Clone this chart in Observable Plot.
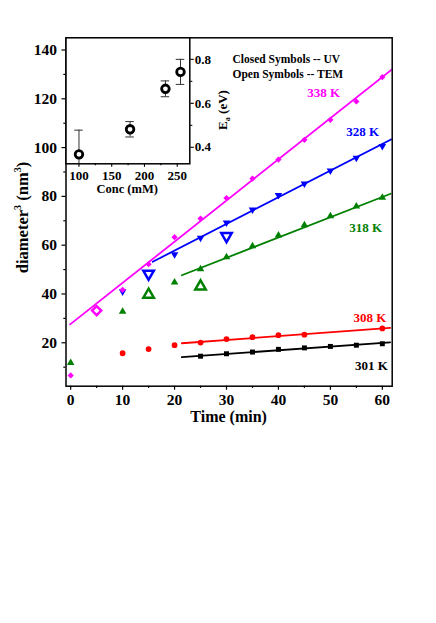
<!DOCTYPE html>
<html><head><meta charset="utf-8">
<script src="https://cdn.jsdelivr.net/npm/d3@7"></script>
<script src="https://cdn.jsdelivr.net/npm/@observablehq/plot@0.6"></script>
<style>
body{margin:0;background:#fff;}
#wrap{position:relative;width:436px;height:623px;}
#inset{position:absolute;left:0;top:0;}
</style></head><body><div id="wrap"><div id="main"></div><div id="inset"></div></div>
<script>
// ---- Main chart data (Time in min, diameter^3 in nm^3) ----
const seriesNames = ["338 K", "328 K", "318 K", "308 K", "301 K"];
const seriesColors = ["#ff00ff", "#0000ff", "#008000", "#ff0000", "#000000"];
const seriesSymbols = ["diamond2", "triangle", "triangle", "circle", "square"];
const seriesRotate = [0, 180, 0, 0, 0];

const times338 = [0, 10, 15, 20, 25, 30, 35, 40, 45, 50, 55, 60];
const vals338  = [6.6, 41.7, 52.2, 63.3, 70.9, 79.3, 87.3, 95.1, 103.2, 111.4, 118.9, 128.9];
const times328 = [10, 20, 25, 30, 35, 40, 45, 50, 55, 60];
const vals328  = [41.0, 56.2, 63.0, 69.2, 74.6, 80.5, 85.2, 90.5, 95.8, 100.6];
const times318 = [0, 10, 20, 25, 30, 35, 40, 45, 50, 55, 60];
const vals318  = [11.8, 32.8, 44.8, 50.2, 55.1, 59.6, 64.0, 68.2, 71.9, 75.9, 79.5];
const times308 = [10, 15, 20, 25, 30, 35, 40, 45, 60];
const vals308  = [15.7, 17.4, 19.0, 20.1, 21.5, 22.3, 23.1, 23.3, 25.9];
const times301 = [25, 30, 35, 40, 45, 50, 55, 60];
const vals301  = [14.5, 15.5, 16.2, 17.3, 17.9, 18.5, 19.0, 19.6];

// Open symbols (TEM)
const temSeries = ["338 K", "328 K", "328 K", "318 K", "318 K"];
const temTimes  = [5, 15, 30, 15, 25];
const temVals   = [33.2, 48.3, 63.7, 39.7, 43.1];

// Linear fits
const fitStart     = [-0.1, 15.8, 21.4, 21.4, 21.4];
const fitEnd       = [62, 62, 61.6, 61.5, 61.5];
const fitIntercept = [27.7, 35.95, 29.9, 16.44, 10.85];
const fitSlope     = [1.687, 1.092, 0.831, 0.157, 0.152];

// Series labels
const labelX = [48.7, 56.2, 56.8, 57.6, 57.9];
const labelY = [122.6, 106.3, 67.0, 30.2, 10.7];

// Axis ticks
const xMajor = [0, 10, 20, 30, 40, 50, 60];
const xMinor = [5, 15, 25, 35, 45, 55];
const yMajor = [20, 40, 60, 80, 100, 120, 140];
const yMinor = [10, 30, 50, 70, 90, 110, 130];

// ---- Inset data ----
const conc  = [100, 178, 232, 255];
const ea    = [0.368, 0.482, 0.666, 0.743];
const eaErr = [0.11, 0.035, 0.036, 0.057];
const cxMajor = [100, 150, 200, 250];
const cxMinor = [125, 175, 225];
const eyMajor = [0.4, 0.6, 0.8];
const eyMinor = [0.5, 0.7];

const FONT = '"Liberation Serif","Times New Roman",serif';
const W = 436, H = 623;

// Build tables
const valueTable = [[times338, vals338], [times328, vals328], [times318, vals318], [times308, vals308], [times301, vals301]];
const closed = [];
valueTable.forEach(([ts, vs], i) => ts.forEach((t, j) => closed.push({series: seriesNames[i], t, v: vs[j], i})));
const open = temTimes.map((t, j) => ({series: temSeries[j], t, v: temVals[j], i: seriesNames.indexOf(temSeries[j])}));
const fitPts = [];
seriesNames.forEach((s, i) => {
  [fitStart[i], fitEnd[i]].forEach(t => fitPts.push({series: s, t, v: fitIntercept[i] + fitSlope[i] * t}));
});
const labels = seriesNames.map((s, i) => ({series: s, t: labelX[i], v: labelY[i]}));

const colorOpt = {type: "ordinal", domain: seriesNames, range: seriesColors};

const closedMarks = seriesNames.map((s, i) => Plot.dot(closed.filter(d => d.i === i), {
  x: "t", y: "v", symbol: () => seriesSymbols[i], fill: seriesColors[i], stroke: "none",
  r: i === 3 ? 2.9 : 2.8, rotate: seriesRotate[i]
}));
const openMarks = seriesNames.map((s, i) => Plot.dot(open.filter(d => d.i === i), {
  x: "t", y: "v", symbol: () => seriesSymbols[i], fill: "none", stroke: seriesColors[i],
  strokeWidth: 2.5, r: i === 0 ? 4.1 : 3.9, rotate: seriesRotate[i]
}));

const main = Plot.plot({
  width: W, height: H,
  marginLeft: 65.5, marginRight: W - 391.7, marginTop: 37.3, marginBottom: H - 385.7,
  x: {domain: [-0.9, 61.9]},
  y: {domain: [2.2, 145]},
  color: colorOpt,
  style: {fontFamily: FONT, fontWeight: "bold", background: "white"},
  marks: [
    Plot.axisY({ticks: yMinor, tickSize: 2.2, tickFormat: () => "", label: null, strokeWidth: 1.2}),
    Plot.axisY({ticks: yMajor, tickSize: 4, tickPadding: 5, fontSize: 15.5, label: null, strokeWidth: 1.2}),
    Plot.axisX({ticks: xMinor, tickSize: 2.2, tickFormat: () => "", label: null, strokeWidth: 1.2}),
    Plot.axisX({ticks: xMajor, tickSize: 4, tickPadding: 3.5, fontSize: 15.5, label: null, strokeWidth: 1.2}),
    Plot.line(fitPts, {x: "t", y: "v", z: "series", stroke: "series", strokeWidth: 1.8, clip: true}),
    ...closedMarks.slice().reverse(),
    ...openMarks,
    Plot.text(labels, {x: "t", y: "v", text: "series", fill: "series", fontSize: 13, fontWeight: "bold"}),
    Plot.text(["Closed Symbols -- UV"], {frameAnchor: "top-left", dx: 166.5, dy: 17, textAnchor: "start", fontSize: 11.5, fontWeight: "bold"}),
    Plot.text(["Open Symbols -- TEM"], {frameAnchor: "top-left", dx: 166.5, dy: 32.3, textAnchor: "start", fontSize: 11.5, fontWeight: "bold"}),
    Plot.frame({strokeWidth: 1.5})
  ]
});
document.getElementById("main").appendChild(main);

const ms = d3.select(main);
const yl = ms.append("text").attr("transform", "translate(28,217.5) rotate(-90)")
  .attr("text-anchor", "middle").attr("font-size", 16.5).attr("font-weight", "bold").attr("font-family", FONT);
yl.append("tspan").text("diameter");
yl.append("tspan").attr("dy", -7).attr("font-size", 10).text("3");
yl.append("tspan").attr("dy", 7).text(" (nm");
yl.append("tspan").attr("dy", -7).attr("font-size", 10).text("3");
yl.append("tspan").attr("dy", 7).text(")");
ms.append("text").attr("x", 228.6).attr("y", 421.5).attr("text-anchor", "middle")
  .attr("font-size", 16).attr("font-weight", "bold").attr("font-family", FONT).text("Time (min)");

// ---- Inset ----
const IW = 240, IH = 205;
const errTable = conc.map((c, i) => ({c, e: ea[i], lo: ea[i] - eaErr[i], hi: ea[i] + eaErr[i]}));
const inset = Plot.plot({
  width: IW, height: IH,
  marginLeft: 65.5, marginRight: IW - 189.3, marginTop: 37.3, marginBottom: IH - 163.3,
  x: {domain: [80.2, 269.2]},
  y: {domain: [0.325, 0.898]},
  style: {fontFamily: FONT, fontWeight: "bold", background: "transparent"},
  marks: [
    Plot.frame({fill: "white", stroke: "none"}),
    Plot.axisX({ticks: cxMinor, tickSize: 2, tickFormat: () => "", label: null, strokeWidth: 1.1}),
    Plot.axisX({ticks: cxMajor, tickSize: 3.5, tickPadding: 3, fontSize: 13, label: null, strokeWidth: 1.1}),
    Plot.axisY({anchor: "right", ticks: eyMinor, tickSize: 2, tickFormat: () => "", label: null, strokeWidth: 1.1}),
    Plot.axisY({anchor: "right", ticks: eyMajor, tickSize: 3.5, tickPadding: 1.5, tickFormat: d3.format(".1f"), fontSize: 13, label: null, strokeWidth: 1.1}),
    Plot.ruleX(errTable, {x: "c", y1: "lo", y2: "hi", stroke: "#333", strokeWidth: 1, clip: true}),
    Plot.ruleY(errTable, {y: "hi", x1: d => d.c - 6.5, x2: d => d.c + 6.5, stroke: "#333", strokeWidth: 1, clip: true}),
    Plot.ruleY(errTable, {y: "lo", x1: d => d.c - 6.5, x2: d => d.c + 6.5, stroke: "#333", strokeWidth: 1, clip: true}),
    Plot.dot(errTable, {x: "c", y: "e", r: 3.8, fill: "white", stroke: "black", strokeWidth: 2.8}),
    Plot.frame({strokeWidth: 1.5})
  ]
});
document.getElementById("inset").appendChild(inset);
const is = d3.select(inset);
is.append("text").attr("x", 127.2).attr("y", 192.5).attr("text-anchor", "middle")
  .attr("font-size", 12.5).attr("font-weight", "bold").attr("font-family", FONT).text("Conc (mM)");
const el = is.append("text").attr("transform", "translate(226.5,110) rotate(-90)")
  .attr("text-anchor", "middle").attr("font-size", 13).attr("font-weight", "bold").attr("font-family", FONT);
el.append("tspan").text("E");
el.append("tspan").attr("dy", 3).attr("font-size", 8).text("a");
el.append("tspan").attr("dy", -3).text(" (eV)");
</script></body></html>
